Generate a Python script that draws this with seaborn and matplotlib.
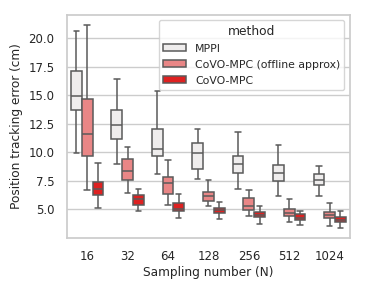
import numpy as np
import pandas as pd
import matplotlib
import matplotlib.pyplot as plt
import seaborn as sns

matplotlib.use('Agg')

sampling_numbers = ["16", "32", "64", "128", "256", "512", "1024"]
methods = ["MPPI", "CoVO-MPC (offline approx)", "CoVO-MPC"]

# each box: [lower whisker, q1, median, q3, upper whisker]
mppi_boxes = [
    [9.96, 13.73, 14.92, 17.07, 20.6],
    [8.94, 11.18, 12.4, 13.73, 16.37],
    [8.07, 9.66, 10.3, 12.05, 15.38],
    [7.64, 8.57, 9.96, 10.77, 12.07],
    [6.82, 8.22, 9.0, 9.64, 11.75],
    [6.21, 7.52, 8.22, 8.88, 10.66],
    [6.21, 7.14, 7.61, 8.1, 8.79],
]
offline_boxes = [
    [6.67, 9.66, 11.58, 14.66, 21.13],
    [6.41, 7.54, 8.35, 9.43, 10.48],
    [5.43, 6.33, 7.31, 7.87, 9.32],
    [5.26, 5.78, 6.15, 6.53, 7.58],
    [4.44, 4.93, 5.26, 6.04, 6.67],
    [3.86, 4.44, 4.73, 5.08, 5.89],
    [3.51, 4.23, 4.52, 4.79, 5.55],
]
covo_boxes = [
    [5.13, 6.24, 6.76, 7.4, 9.03],
    [4.85, 5.37, 5.87, 6.27, 6.76],
    [4.27, 4.85, 5.08, 5.55, 6.33],
    [4.15, 4.73, 4.93, 5.13, 5.66],
    [3.72, 4.3, 4.52, 4.79, 5.31],
    [3.63, 4.04, 4.27, 4.56, 4.85],
    [3.39, 3.86, 4.1, 4.33, 4.88],
]

palette = ["#efeded", "#e98686", "#de2121"]

rows = []
for method, boxes in zip(methods, [mppi_boxes, offline_boxes, covo_boxes]):
    for n, vals in zip(sampling_numbers, boxes):
        for v in vals:
            rows.append({"N": n, "error": v, "method": method})
df = pd.DataFrame(rows)

sns.set_theme(style="whitegrid")
plt.rcParams['font.family'] = ['DejaVu Sans']

fig = plt.figure(figsize=(3.66, 2.92), dpi=100)
ax = fig.add_axes([0.183, 0.185, 0.773, 0.764])

sns.boxplot(
    data=df, x="N", y="error", hue="method",
    order=sampling_numbers, hue_order=methods,
    palette=palette, saturation=1, whis=(0, 100),
    showfliers=False, linewidth=1.1, linecolor="#5a5a5a",
    width=0.8, gap=0, ax=ax
)

ax.set_xlabel("Sampling number (N)", fontsize=8.7, labelpad=2)
ax.set_ylabel("Position tracking error (cm)", fontsize=8.7)
ax.tick_params(axis='both', labelsize=8.5, pad=3)
ax.set_yticks([5.0, 7.5, 10.0, 12.5, 15.0, 17.5, 20.0])
ax.set_yticklabels(["5.0", "7.5", "10.0", "12.5", "15.0", "17.5", "20.0"])

leg = ax.legend(title="method", loc="upper right", fontsize=7.8, title_fontsize=8.8,
                handlelength=2.1, handleheight=0.6, borderpad=0.4, labelspacing=0.55)

plt.savefig("out.png", dpi=100)
plt.close()
